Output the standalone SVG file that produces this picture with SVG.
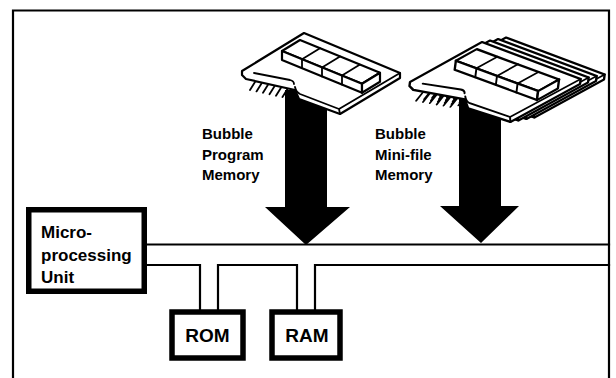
<svg xmlns="http://www.w3.org/2000/svg" width="616" height="378" viewBox="0 0 616 378">
  <style>
    .ln{fill:none;stroke:#000;stroke-width:2.2;stroke-linecap:square;stroke-linejoin:miter}
    .box{fill:#fff;stroke:#000;stroke-width:5.5}
    .pcb{fill:#fff;stroke:#000;stroke-width:2.2;stroke-linejoin:round}
    .fine{fill:none;stroke:#000;stroke-width:1.8;stroke-linecap:round;stroke-linejoin:round}
    .arrow{fill:#000}
    text{font-family:"Liberation Sans",Arial,Helvetica,sans-serif;font-weight:bold;fill:#000}
    .lbl{font-size:15px}
    .unit{font-size:17px}
    .mem{font-size:19px}
  </style>
  <defs>
    <!-- bubble memory board, local origin at its left corner -->
    <g id="card">
      <path class="pcb" d="M0,0 L62,-38 L158,2 L158,7 L98,43 L57,28 L53,19 L4,8 L0,4 Z"/>
      <path class="fine" d="M158,2 L97,38 L98,43 M97,38 L58,23 Q54,21 53,16 M12,2 L48,9 Q52,10 52,13"/>
      <!-- edge connector pins -->
      <path class="fine" d="M13,11 L8,19 M19.5,12.4 L14.5,20.4 M26,13.8 L21,21.8 M32.5,15.3 L27.5,23.3 M39,16.7 L34,24.7 M45.5,18.1 L40.5,26.1"/>
      <!-- row of four bubble devices -->
      <path class="pcb" d="M40,-20 L120,12.8 L138,1.8 L58,-31 Z"/>
      <path class="pcb" d="M40,-20 L120,12.8 L120,21.8 L40,-11 Z"/>
      <path class="pcb" d="M120,12.8 L138,1.8 L138,10.8 L120,21.8 Z"/>
      <path class="fine" d="M60,-11.8 L78,-22.8 M80,-3.6 L98,-14.6 M100,4.6 L118,-6.4 M60,-11.8 V-2.8 M80,-3.6 V5.4 M100,4.6 V13.6"/>
    </g>
  </defs>

  <!-- outer frame -->
  <path class="ln" d="M13,378 V10.5 H609 V378"/>

  <!-- system bus and memory taps -->
  <g id="connectors">
    <path class="ln" d="M146,244.5 H609"/>
    <path class="ln" d="M146,265 H200 V310"/>
    <path class="ln" d="M218,310 V265 H297 V310"/>
    <path class="ln" d="M315,310 V265 H609"/>
    <path class="arrow" d="M285,90 H327 V207 H350 L306,245 L265,207 H285 Z"/>
    <path class="arrow" d="M459,95 H501 V206 H519 L481,243 L440,206 H459 Z"/>
  </g>

  <g id="program-memory">
    <use href="#card" transform="translate(242,71)"/>
    <text class="lbl" x="202" y="139">Bubble</text>
    <text class="lbl" x="202" y="159.5">Program</text>
    <text class="lbl" x="202" y="180">Memory</text>
  </g>

  <g id="minifile-memory">
    <use href="#card" transform="matrix(1.0818,-0.0314,-0.1298,1.0013,434,77.5)"/>
    <use href="#card" transform="matrix(1.0818,-0.0314,-0.1298,1.0013,426,79)"/>
    <use href="#card" transform="matrix(1.0818,-0.0314,-0.1298,1.0013,418,80.5)"/>
    <use href="#card" transform="matrix(1.0818,-0.0314,-0.1298,1.0013,410,82)"/>
    <text class="lbl" x="375" y="139">Bubble</text>
    <text class="lbl" x="375" y="159.5">Mini-file</text>
    <text class="lbl" x="375" y="180">Memory</text>
  </g>

  <g id="mpu">
    <rect class="box" x="28.75" y="209.75" width="115.5" height="81.5"/>
    <text class="unit" x="41" y="238">Micro-</text>
    <text class="unit" x="41" y="260.5">processing</text>
    <text class="unit" x="41" y="282.5">Unit</text>
  </g>

  <g id="rom">
    <rect class="box" x="172" y="312" width="71" height="46"/>
    <text class="mem" x="207.5" y="342" text-anchor="middle">ROM</text>
  </g>

  <g id="ram">
    <rect class="box" x="272" y="312" width="68" height="46"/>
    <text class="mem" x="307" y="342" text-anchor="middle">RAM</text>
  </g>
</svg>
